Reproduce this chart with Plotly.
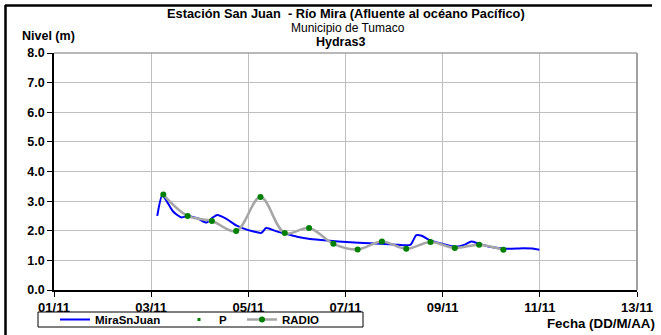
"""Nivel del río Mira - estación San Juan."""
import plotly.graph_objects as go

# ---- data ----
mira_fechas = [
    '2011-11-03 03:00', '2011-11-03 05:30', '2011-11-03 07:40', '2011-11-03 10:50',
    '2011-11-03 15:00', '2011-11-03 18:15', '2011-11-03 22:50', '2011-11-04 03:20',
    '2011-11-04 06:30', '2011-11-04 08:40', '2011-11-04 13:10', '2011-11-04 18:15',
    '2011-11-05 00:00', '2011-11-05 03:40', '2011-11-05 06:30', '2011-11-05 08:50',
    '2011-11-05 13:55', '2011-11-05 19:00', '2011-11-06 00:00', '2011-11-06 06:30',
    '2011-11-06 16:20', '2011-11-07 00:30', '2011-11-07 12:00', '2011-11-07 23:30',
    '2011-11-08 08:00', '2011-11-08 09:20', '2011-11-08 11:00', '2011-11-08 13:40',
    '2011-11-08 17:45', '2011-11-09 00:15', '2011-11-09 06:30', '2011-11-09 11:00',
    '2011-11-09 14:10', '2011-11-09 17:30', '2011-11-09 23:15', '2011-11-10 07:30',
    '2011-11-10 15:50', '2011-11-10 20:25', '2011-11-10 23:45',
]
mira_nivel = [
    2.50, 3.20, 3.00, 2.65,
    2.45, 2.50, 2.42, 2.28,
    2.45, 2.53, 2.40, 2.17,
    2.02, 1.96, 1.93, 2.09,
    1.98, 1.89, 1.80, 1.72,
    1.66, 1.62, 1.58, 1.54,
    1.52, 1.66, 1.85, 1.83,
    1.68, 1.55, 1.46, 1.53,
    1.64, 1.57, 1.46, 1.39,
    1.41, 1.40, 1.36,
]

radio_fechas = [
    '2011-11-03 06:00', '2011-11-03 18:00', '2011-11-04 06:00', '2011-11-04 18:00',
    '2011-11-05 06:00', '2011-11-05 18:00', '2011-11-06 06:00', '2011-11-06 18:00',
    '2011-11-07 06:00', '2011-11-07 18:00', '2011-11-08 06:00', '2011-11-08 18:00',
    '2011-11-09 06:00', '2011-11-09 18:00', '2011-11-10 06:00',
]
radio_nivel = [3.22, 2.50, 2.33, 1.99, 3.14, 1.92, 2.09, 1.56,
               1.37, 1.64, 1.39, 1.62, 1.42, 1.53, 1.36]

p_fechas = radio_fechas
p_nivel = radio_nivel

FONT = 'Liberation Sans, Arial, sans-serif'

fig = go.Figure()

fig.add_trace(go.Scatter(
    x=mira_fechas, y=mira_nivel, name='MiraSnJuan', legend='legend',
    mode='lines', line=dict(color='#0000ff', width=2, shape='spline', smoothing=0.7),
))
fig.add_trace(go.Scatter(
    x=p_fechas, y=p_nivel, name='P', legend='legend2',
    mode='markers', marker=dict(color='#008000', size=3, symbol='square'),
))
fig.add_trace(go.Scatter(
    x=radio_fechas, y=radio_nivel, name='RADIO', legend='legend3',
    mode='lines+markers',
    line=dict(color='#a6a6a6', width=2.5, shape='spline', smoothing=1.0),
    marker=dict(color='#008000', size=6),
))

# plot area: x 54..637, y 53..290 in a 661x335 page
W, H = 583, 237
L, T = 54, 53


def px(x):
    return (x - L) / W


def py(y):
    return (T + H - y) / H


shapes = [
    # plot frame (top/right in gray)
    dict(type='line', xref='paper', yref='paper', x0=0, x1=1, y0=1, y1=1,
         line=dict(color='#a0a0a0', width=1.5)),
    dict(type='line', xref='paper', yref='paper', x0=1, x1=1, y0=0, y1=1,
         line=dict(color='#a0a0a0', width=2)),
    # outer frame
    dict(type='line', xref='paper', yref='paper', x0=px(5), x1=px(652), y0=py(5.5), y1=py(5.5),
         line=dict(color='black', width=2.5)),
    dict(type='line', xref='paper', yref='paper', x0=px(5.5), x1=px(5.5), y0=py(5), y1=py(340),
         line=dict(color='black', width=2.5)),
    # legend box
    dict(type='rect', xref='paper', yref='paper', x0=px(38), x1=px(363), y0=py(312), y1=py(327),
         line=dict(color='black', width=1)),
]

annotations = [
    dict(text='<b>Estación San Juan  - Río Mira (Afluente al océano Pacífico)</b>',
         x=px(346), y=py(13.5), yanchor='middle', font=dict(size=12.8)),
    dict(text='Municipio de Tumaco', x=px(348), y=py(27.5), yanchor='middle',
         font=dict(size=12)),
    dict(text='<b>Hydras3</b>', x=px(340), y=py(41.5), yanchor='middle',
         font=dict(size=12.5)),
    dict(text='<b>Nivel (m)</b>', x=px(20), y=py(36), xanchor='left', yanchor='middle',
         font=dict(size=12.5)),
    dict(text='<b>Fecha (DD/M/AA)</b>', x=px(657), y=py(323), xanchor='right',
         yanchor='middle'),
]
for a in annotations:
    a.update(xref='paper', yref='paper', showarrow=False)
    a.setdefault('font', dict(size=13.3))
    a['font'].update(color='black', family=FONT)


def legend_at(x):
    return dict(
        orientation='h', x=px(x), y=py(319.5), xanchor='left', yanchor='middle',
        font=dict(size=11.5, family=FONT, color='black', weight='bold'),
        bgcolor='rgba(0,0,0,0)', itemwidth=30,
    )


fig.update_layout(
    width=661, height=335,
    margin=dict(l=L, r=661 - L - W, t=T, b=335 - T - H, autoexpand=False),
    paper_bgcolor='white', plot_bgcolor='white',
    font=dict(family=FONT, color='black'),
    showlegend=True,
    legend=legend_at(55),
    legend2=legend_at(179),
    legend3=legend_at(242),
    shapes=shapes,
    annotations=annotations,
)

fig.update_xaxes(
    type='date', range=['2011-11-01', '2011-11-13'],
    tick0='2011-11-01', dtick=2 * 86400000, tickformat='%d/%m',
    showgrid=True, gridcolor='#c0c0c0', gridwidth=1,
    showline=True, linecolor='black', linewidth=1.5,
    ticks='outside', ticklen=5, tickcolor='black',
    tickfont=dict(size=13, family=FONT, color='black', weight='bold'),
    zeroline=False,
)
fig.update_yaxes(
    range=[0, 8], dtick=1, tickformat='.1f',
    showgrid=True, gridcolor='#c0c0c0', gridwidth=1,
    showline=True, linecolor='black', linewidth=1.5,
    ticks='outside', ticklen=5, tickcolor='black',
    tickfont=dict(size=12.5, family=FONT, color='black', weight='bold'),
    zeroline=False,
)

# the page's default body margin would push the chart 8px down/right
fig.write_html("out.html", config={'displayModeBar': False},
               post_script="document.body.style.margin='0';")
